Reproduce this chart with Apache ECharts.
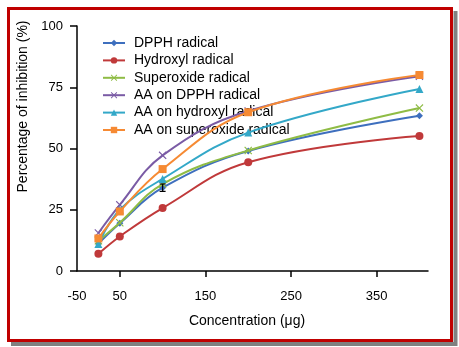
<!DOCTYPE html>
<html>
<head>
<meta charset="utf-8">
<script src="https://cdn.jsdelivr.net/npm/echarts@6/dist/echarts.min.js"></script>
<style>
html,body{margin:0;padding:0;background:#fff;}
#chart{width:459px;height:347px;}
</style>
</head>
<body>
<div id="chart"></div>
<script>
var concentrations = [25, 50, 100, 200, 400];
var dpph = [11.2, 19.5, 34.0, 49.0, 63.4];
var dpphErr = [0, 0, 1.5, 0, 0];
var hydroxyl = [7.0, 14.1, 25.7, 44.4, 55.1];
var superoxide = [12.3, 19.7, 35.5, 49.2, 66.5];
var aaDpph = [15.5, 27.0, 47.2, 65.3, 79.5];
var aaHydroxyl = [11.0, 25.0, 37.6, 56.5, 74.3];
var aaSuperoxide = [13.3, 24.3, 41.6, 64.8, 80.0];
var seriesNames = ['DPPH radical', 'Hydroxyl radical', 'Superoxide radical', 'AA on DPPH radical', 'AA on hydroxyl radical', 'AA on superoxide radical'];
var xTickValues = [50, 150, 250, 350];
var xLabelValues = [0, 50, 150, 250, 350];
var xLabelTexts = ['-50', '50', '150', '250', '350'];

var colors = ['#3e6fbe', '#c0393a', '#8fbc45', '#7a5ba5', '#33a8c8', '#f68a33'];
var xSymbol = 'path://M0,1L1,0L5,4L9,0L10,1L6,5L10,9L9,10L5,6L1,10L0,9L4,5Z';
var symbols = ['diamond', 'circle', xSymbol, xSymbol, 'triangle', 'rect'];
var sizes = [7, 8, 8, 8, 8, 8];
var allData = [dpph, hydroxyl, superoxide, aaDpph, aaHydroxyl, aaSuperoxide];

function pairs(arr) {
  return concentrations.map(function (c, i) { return [c, arr[i]]; });
}

var FONT = '"Liberation Sans", Arial, sans-serif';
var series = allData.map(function (arr, i) {
  return {
    name: seriesNames[i],
    type: 'line',
    smooth: 0.4,
    data: pairs(arr),
    symbol: symbols[i],
    symbolSize: sizes[i],
    showAllSymbol: true,
    lineStyle: { color: colors[i], width: 2 },
    itemStyle: { color: colors[i] },
    z: 2 + i
  };
});

series.push({
  type: 'custom',
  name: 'err',
  data: concentrations.map(function (c, i) { return [c, dpph[i] - dpphErr[i], dpph[i] + dpphErr[i], dpphErr[i]]; }),
  renderItem: function (params, api) {
    if (!api.value(3)) { return null; }
    var lo = api.coord([api.value(0), api.value(1)]);
    var hi = api.coord([api.value(0), api.value(2)]);
    var w = 3;
    return {
      type: 'group',
      children: [
        { type: 'line', shape: { x1: lo[0], y1: lo[1], x2: hi[0], y2: hi[1] }, style: { stroke: '#000', lineWidth: 1.2 } },
        { type: 'line', shape: { x1: lo[0] - w, y1: lo[1], x2: lo[0] + w, y2: lo[1] }, style: { stroke: '#000', lineWidth: 1.2 } },
        { type: 'line', shape: { x1: hi[0] - w, y1: hi[1], x2: hi[0] + w, y2: hi[1] }, style: { stroke: '#000', lineWidth: 1.2 } }
      ]
    };
  },
  encode: { x: 0, y: [1, 2] },
  z: 20
});

var chart = echarts.init(document.getElementById('chart'), null, { renderer: 'canvas' });
chart.setOption({
  animation: false,
  backgroundColor: '#fff',
  textStyle: { fontFamily: FONT },
  graphic: {
    elements: [
      { type: 'polyline', shape: { points: [[455.5, 11], [455.5, 344], [11, 344]] }, style: { stroke: '#808080', lineWidth: 4, fill: null }, z: -1 },
      { type: 'rect', shape: { x: 8.5, y: 8.5, width: 443, height: 332 }, style: { stroke: '#c00000', lineWidth: 3, fill: null }, z: -1 }
    ]
  },
  grid: { left: 77, right: 31, top: 26, bottom: 76, containLabel: false },
  legend: {
    data: seriesNames,
    orient: 'vertical',
    left: 97,
    top: 31,
    itemWidth: 22,
    itemHeight: 8,
    itemGap: 3.4,
    textStyle: { fontFamily: FONT, fontSize: 14, color: '#000', lineHeight: 14, padding: [0, 0, 0, 4] }
  },
  xAxis: {
    type: 'value',
    min: 0,
    max: 410,
    name: 'Concentration (μg)',
    nameLocation: 'middle',
    nameGap: 43,
    nameTextStyle: { fontFamily: FONT, fontSize: 14, color: '#000', padding: [0, 11, 0, 0] },
    axisLine: { lineStyle: { color: '#000', width: 1.5 } },
    axisTick: { show: true, length: 6, lineStyle: { color: '#000', width: 1.5 }, customValues: xTickValues },
    axisLabel: {
      fontFamily: FONT, fontSize: 13, color: '#000', margin: 19,
      customValues: xLabelValues,
      formatter: function (v) { var k = xLabelValues.indexOf(v); return k >= 0 ? xLabelTexts[k] : ''; }
    },
    splitLine: { show: false }
  },
  yAxis: {
    type: 'value',
    min: 0,
    max: 100,
    interval: 25,
    name: 'Percentage of inhibition (%)',
    nameLocation: 'middle',
    nameGap: 46,
    nameTextStyle: { fontFamily: FONT, fontSize: 14, color: '#000', padding: [0, 0, 0, 84] },
    axisLine: { show: true, lineStyle: { color: '#000', width: 1.5 } },
    axisTick: { show: true, length: 7, lineStyle: { color: '#000', width: 1.5 } },
    axisLabel: { fontFamily: FONT, fontSize: 13, color: '#000', margin: 14 },
    splitLine: { show: false }
  },
  series: series
});
</script>
</body>
</html>
